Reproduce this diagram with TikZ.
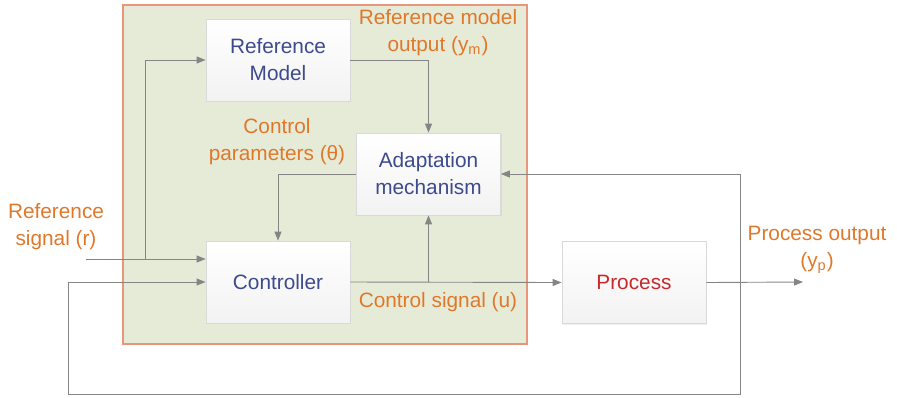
\documentclass[tikz,border=0pt]{standalone}
\usepackage{fontspec}
\setmainfont{Liberation Sans}
\usetikzlibrary{positioning, arrows.meta, shadows}

\definecolor{labelorange}{HTML}{E0782A}
\definecolor{blocktext}{HTML}{3D4B8E}
\definecolor{processred}{HTML}{C8282C}
\definecolor{framefill}{HTML}{E6EBD8}
\definecolor{frameline}{HTML}{E9957C}
\definecolor{wire}{HTML}{858585}

\begin{document}
\begin{tikzpicture}[
    x=0.5pt, y=-0.5pt,
    font=\fontsize{10.4}{13.5}\selectfont,
    % Define the style for the boxes
    block/.style={
        rectangle,
        draw=gray!30,
        top color=white,
        bottom color=gray!10,
        text=blocktext,
        align=center,
        minimum width=72pt,
        minimum height=41pt,
        drop shadow={shadow xshift=0.6pt, shadow yshift=-0.6pt, opacity=0.12}
    },
    % Define the style for the signal labels
    signal/.style={
        text=labelorange,
        align=center,
        inner sep=0pt
    },
    % Define the style for the arrows
    line/.style={
        draw=wire,
        line width=0.45pt,
        -{Triangle[length=4.5pt, width=3.5pt]}
    }
]
    \useasboundingbox (0,0) rectangle (897,397);

    % The adaptive controller frame
    \node [draw=frameline, fill=framefill, line width=0.55pt,
           minimum width=202pt, minimum height=169.5pt, inner sep=0pt] (frame) at (325,174.5) {};

    % Place the nodes (boxes)
    \node [block] (refmodel) at (278,60) {Reference\\Model};
    \node [block] (adapt) at (428.5,174) {Adaptation\\mechanism};
    \node [block] (ctrl) at (278,282) {Controller};
    \node [block, text=processred] (process) at (634,282.5) {Process};

    % Labels
    \node [signal] (rlabel) at (56,227) {Reference\\signal (r)};
    \node [signal] (ymlabel) at (438,33) {Reference model\\output (y\textsubscript{m})};
    \node [signal] (thlabel) at (277,142) {Control\\parameters (θ)};
    \node [signal] (ulabel) at (438,302) {Control signal (u)};
    \node [signal] (yplabel) at (817,250) {Process output\\(y\textsubscript{p})};

    % Branch points
    \coordinate (rin) at (86,259);
    \coordinate (rsplit) at (145,259);
    \coordinate (usplit) at (adapt.south |- ctrl.east);
    \coordinate (yout) at (803,282);
    \coordinate (fb) at (740,282);
    \coordinate (fbright) at (740,394);
    \coordinate (fbleft) at (68,394);

    % Draw the arrows
    \path [line] (rin) -- (ctrl.west |- rin);
    \path [line] (rsplit) |- (refmodel.west);
    \path [line] (refmodel.east) -| (adapt.north);
    \path [line] (adapt.west) -| (ctrl.north);
    \path [line] (ctrl.east) -- (process.west);
    \path [line] (usplit) -- (adapt.south);
    \path [line] (process.east) -- (yout);
    \path [line] (fb) |- (adapt.east);
    \path [line] (fb) -- (fbright) -- (fbleft) |- (ctrl.west);

\end{tikzpicture}
\end{document}
